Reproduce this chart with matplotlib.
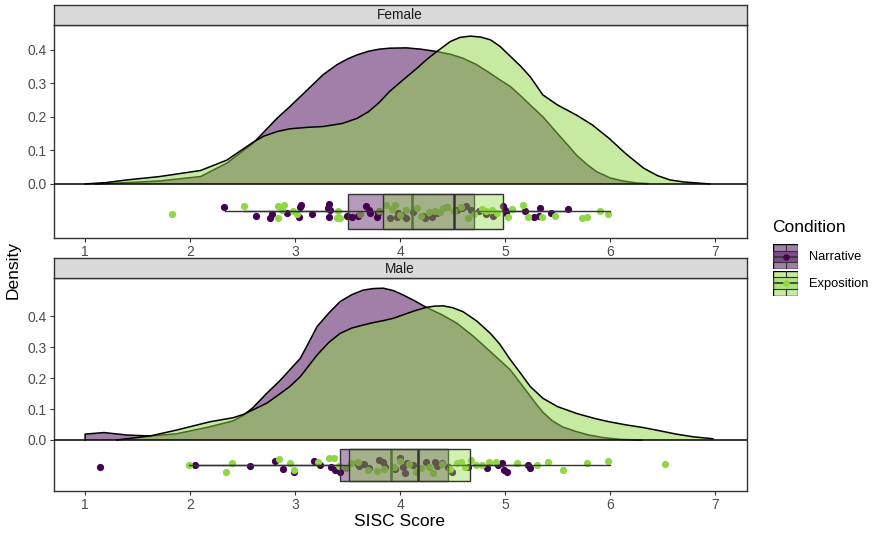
"""plot.py - SISC score density + boxplot + jitter, faceted by gender."""
import matplotlib
matplotlib.use("Agg")
import matplotlib.pyplot as plt
from matplotlib.patches import Rectangle

plt.rcParams["font.family"] = ["Liberation Sans", "DejaVu Sans"]

# Colours: viridis ends used for the two conditions
COL_N = "#440154"   # Narrative
COL_E = "#8fd744"   # Exposition

# ---------------- density curves ----------------
fem_n_x = [1.10, 1.40, 1.71, 2.10, 2.35, 2.60, 2.83, 2.95, 3.05, 3.15, 3.27, 3.40, 3.50, 3.59,
           3.70, 3.80, 3.90, 4.06, 4.20, 4.35, 4.48, 4.60, 4.73, 4.86, 4.95, 5.05, 5.15, 5.24,
           5.36, 5.50, 5.60, 5.68, 5.78, 5.87, 6.00, 6.12, 6.25, 6.36]
fem_n_y = [0.000, 0.004, 0.009, 0.022, 0.062, 0.121, 0.196, 0.230, 0.260, 0.290, 0.326, 0.355,
           0.372, 0.384, 0.395, 0.401, 0.404, 0.405, 0.401, 0.394, 0.386, 0.374, 0.355, 0.329,
           0.310, 0.290, 0.262, 0.235, 0.200, 0.150, 0.115, 0.086, 0.058, 0.037, 0.018, 0.009,
           0.003, 0.001]

fem_e_x = [1.00, 1.20, 1.40, 1.71, 2.10, 2.35, 2.60, 2.70, 2.83, 2.95, 3.10, 3.27, 3.45, 3.59,
           3.70, 3.80, 3.90, 4.03, 4.16, 4.26, 4.35, 4.48, 4.57, 4.67, 4.77, 4.86, 4.95, 5.05,
           5.15, 5.24, 5.36, 5.50, 5.68, 5.83, 5.99, 6.15, 6.32, 6.45, 6.57, 6.70, 6.82, 6.95]
fem_e_y = [0.000, 0.004, 0.012, 0.022, 0.040, 0.071, 0.124, 0.142, 0.156, 0.164, 0.168, 0.171,
           0.180, 0.195, 0.215, 0.242, 0.275, 0.310, 0.344, 0.372, 0.394, 0.424, 0.436, 0.440,
           0.437, 0.429, 0.410, 0.380, 0.350, 0.319, 0.265, 0.235, 0.205, 0.176, 0.136, 0.090,
           0.047, 0.025, 0.012, 0.006, 0.003, 0.000]

male_n_x = [1.00, 1.00, 1.18, 1.40, 1.62, 1.87, 2.19, 2.41, 2.51, 2.60, 2.73, 2.85, 2.95, 3.05,
            3.13, 3.21, 3.32, 3.43, 3.54, 3.65, 3.75, 3.84, 3.94, 4.03, 4.14, 4.25, 4.40, 4.54,
            4.70, 4.86, 4.95, 5.05, 5.20, 5.30, 5.36, 5.45, 5.55, 5.68, 5.80, 5.93, 6.10, 6.30]
male_n_y = [0.000, 0.019, 0.024, 0.016, 0.013, 0.020, 0.043, 0.062, 0.080, 0.105, 0.151, 0.190,
            0.227, 0.264, 0.315, 0.367, 0.410, 0.448, 0.470, 0.485, 0.490, 0.491, 0.483, 0.469,
            0.450, 0.429, 0.405, 0.378, 0.335, 0.286, 0.258, 0.227, 0.160, 0.115, 0.090, 0.062,
            0.042, 0.027, 0.016, 0.008, 0.002, 0.000]

male_e_x = [1.30, 1.62, 1.87, 2.19, 2.41, 2.51, 2.73, 2.85, 2.95, 3.05, 3.13, 3.21, 3.32, 3.43,
            3.54, 3.65, 3.75, 3.84, 3.94, 4.03, 4.14, 4.25, 4.33, 4.41, 4.50, 4.60, 4.73, 4.86,
            4.95, 5.05, 5.15, 5.24, 5.36, 5.50, 5.68, 5.85, 5.99, 6.15, 6.32, 6.50, 6.63, 6.80, 6.98]
male_e_y = [0.000, 0.013, 0.032, 0.059, 0.072, 0.083, 0.119, 0.148, 0.173, 0.205, 0.240, 0.275,
            0.315, 0.345, 0.362, 0.372, 0.380, 0.386, 0.394, 0.405, 0.418, 0.429, 0.433, 0.434,
            0.428, 0.415, 0.385, 0.345, 0.310, 0.260, 0.215, 0.173, 0.135, 0.108, 0.086, 0.070,
            0.059, 0.049, 0.040, 0.028, 0.019, 0.010, 0.004]

# ---------------- box statistics ----------------
# order: q1, median, q3, whisker low, whisker high
fem_n_box = [3.50, 4.11, 4.70, 2.33, 5.60]
fem_e_box = [3.84, 4.51, 4.98, 2.51, 6.00]
male_n_box = [3.43, 3.91, 4.455, 2.05, 5.23]
male_e_box = [3.51, 4.17, 4.67, 1.99, 6.00]

# ---------------- jittered raw scores ----------------
fem_n_pts_x = [2.32, 2.63, 2.76, 2.78, 2.92, 3.04, 3.06, 3.05, 3.16, 3.32, 3.31, 3.32, 3.33, 3.49,
               3.54, 3.60, 3.68, 3.70, 3.71, 3.78, 3.79, 3.97, 4.06, 3.98, 4.22, 4.24, 4.35, 4.54,
               4.59, 4.63, 4.75, 4.82, 4.89, 4.98, 5.00, 5.01, 5.19, 5.28, 5.32, 5.33, 5.44, 5.60,
               4.02, 4.12, 4.30, 4.45, 4.68, 3.90]
fem_n_pts_y = [-0.070, -0.094, -0.100, -0.090, -0.087, -0.097, -0.063, -0.070, -0.090, -0.060, -0.072,
               -0.097, -0.077, -0.094, -0.097, -0.094, -0.065, -0.077, -0.087, -0.097, -0.087, -0.097,
               -0.102, -0.087, -0.094, -0.102, -0.087, -0.077, -0.072, -0.065, -0.080, -0.090, -0.094,
               -0.067, -0.077, -0.087, -0.080, -0.097, -0.094, -0.072, -0.087, -0.074,
               -0.092, -0.085, -0.098, -0.070, -0.077, -0.100]

fem_e_pts_x = [1.83, 2.51, 2.84, 2.89, 2.84, 2.98, 3.02, 3.41, 3.40, 3.43, 3.87, 3.95, 4.06, 4.16,
               4.33, 4.41, 4.51, 4.65, 4.82, 4.92, 5.03, 5.17, 5.22, 5.35, 5.48, 5.73, 5.78, 5.90, 5.98,
               3.80, 4.00, 4.28, 4.45, 4.70, 3.62, 3.92, 4.20, 4.38, 4.58, 4.78, 4.88, 5.07, 2.88]
fem_e_pts_y = [-0.090, -0.065, -0.065, -0.063, -0.100, -0.082, -0.090, -0.080, -0.100, -0.102, -0.063,
               -0.063, -0.077, -0.072, -0.080, -0.072, -0.082, -0.102, -0.082, -0.087, -0.097, -0.063,
               -0.097, -0.097, -0.094, -0.100, -0.097, -0.082, -0.090,
               -0.082, -0.092, -0.085, -0.070, -0.090, -0.088, -0.075, -0.095, -0.083, -0.068,
               -0.074, -0.079, -0.076, -0.078]

male_n_pts_x = [1.143, 2.051, 2.567, 2.806, 2.889, 2.992, 3.178, 3.240, 3.343, 3.384, 3.426, 3.591,
                3.611, 3.653, 3.797, 3.838, 3.859, 4.003, 4.024, 4.045, 4.065, 4.251, 4.334, 4.354,
                4.458, 4.499, 4.643, 4.829, 4.932, 4.974, 4.994, 5.015, 5.221, 5.234,
                3.700, 3.950, 4.120, 4.400]
male_n_pts_y = [-0.088, -0.081, -0.084, -0.067, -0.095, -0.102, -0.067, -0.081, -0.086, -0.097, -0.102,
                -0.076, -0.084, -0.078, -0.065, -0.070, -0.086, -0.059, -0.086, -0.108, -0.073, -0.070,
                -0.070, -0.084, -0.086, -0.102, -0.086, -0.092, -0.081, -0.076, -0.097, -0.102, -0.081,
                -0.092, -0.090, -0.095, -0.080, -0.074]

male_e_pts_x = [1.989, 2.340, 2.402, 2.848, 2.951, 2.992, 3.219, 3.322, 3.372, 3.487, 3.529, 3.694,
                3.776, 3.941, 4.086, 4.148, 4.272, 4.313, 4.396, 4.540, 4.581, 4.623, 4.726, 4.850,
                4.912, 5.118, 5.304, 5.407, 5.551, 5.778, 5.985, 6.522,
                3.600, 3.850, 4.000, 4.200, 4.480, 4.680, 4.780, 3.420]
male_e_pts_y = [-0.081, -0.102, -0.076, -0.063, -0.073, -0.097, -0.070, -0.059, -0.059, -0.092, -0.076,
                -0.097, -0.099, -0.086, -0.078, -0.102, -0.086, -0.108, -0.078, -0.076, -0.070, -0.086,
                -0.081, -0.070, -0.070, -0.076, -0.081, -0.070, -0.097, -0.073, -0.067, -0.078,
                -0.072, -0.094, -0.068, -0.090, -0.095, -0.066, -0.080, -0.085]

BOX_POS = -0.082
BOX_H = 0.104
EDGE = "#333333"


def box_stats(v):
    return dict(q1=v[0], med=v[1], q3=v[2], whislo=v[3], whishi=v[4], fliers=[])


def draw_panel(ax, strip, n_x, n_y, e_x, e_y, n_box, e_box, npx, npy, epx, epy, ylim):
    # raw points first (boxes are drawn over them)
    ax.scatter(npx, npy, s=27, color=COL_N, lw=0, zorder=2)
    ax.scatter(epx, epy, s=27, color=COL_E, lw=0, zorder=2)

    z = 3
    for stats, col in ((n_box, COL_N), (e_box, COL_E)):
        ax.bxp([box_stats(stats)], positions=[BOX_POS], widths=BOX_H,
               orientation="horizontal", patch_artist=True, showcaps=False,
               showfliers=False, manage_ticks=False,
               boxprops=dict(facecolor=matplotlib.colors.to_rgba(col, 0.4),
                             edgecolor=EDGE, lw=1.0, zorder=z),
               medianprops=dict(color=EDGE, lw=1.8, zorder=z + 0.1),
               whiskerprops=dict(color=EDGE, lw=1.0, zorder=z))
        z += 0.5

    # densities: Narrative first, Exposition on top
    ax.fill_between(n_x, n_y, 0, facecolor=COL_N, alpha=0.5, lw=0, zorder=4)
    ax.plot(n_x, n_y, color="black", lw=1.1, zorder=4.1, solid_joinstyle="round")
    ax.fill_between(e_x, e_y, 0, facecolor=COL_E, alpha=0.5, lw=0, zorder=4.2)
    ax.plot(e_x, e_y, color="black", lw=1.1, zorder=4.3, solid_joinstyle="round")
    ax.axhline(0, color="black", lw=1.1, zorder=5)

    ax.set_xlim(0.7, 7.3)
    ax.set_ylim(*ylim)
    ax.set_xticks(range(1, 8))
    ax.set_yticks([0.0, 0.1, 0.2, 0.3, 0.4])
    ax.set_yticklabels(["0.0", "0.1", "0.2", "0.3", "0.4"])
    ax.tick_params(labelsize=10, labelcolor="#4d4d4d", color="#333333",
                   length=3, width=0.8, pad=2)
    for s in ax.spines.values():
        s.set_color("#333333")
        s.set_linewidth(1.0)

    # facet strip
    pos = ax.get_position()
    sax = ax.figure.add_axes([pos.x0, pos.y1, pos.width, 20 / 534])
    sax.set_xticks([])
    sax.set_yticks([])
    sax.set_facecolor("#d9d9d9")
    for s in sax.spines.values():
        s.set_color("#333333")
        s.set_linewidth(1.0)
    sax.text(0.5, 0.48, strip, ha="center", va="center", fontsize=9.8, color="#1a1a1a",
             transform=sax.transAxes)


fig = plt.figure(figsize=(8.76, 5.34), dpi=100)
ax_f = fig.add_axes([53.6 / 876, 1 - 237.7 / 534, 692.9 / 876, 212.7 / 534])
ax_m = fig.add_axes([53.6 / 876, 1 - 491 / 534, 692.9 / 876, 212.7 / 534])

draw_panel(ax_f, "Female", fem_n_x, fem_n_y, fem_e_x, fem_e_y, fem_n_box, fem_e_box,
           fem_n_pts_x, fem_n_pts_y, fem_e_pts_x, fem_e_pts_y, (-0.160, 0.473))
draw_panel(ax_m, "Male", male_n_x, male_n_y, male_e_x, male_e_y, male_n_box, male_e_box,
           male_n_pts_x, male_n_pts_y, male_e_pts_x, male_e_pts_y, (-0.165, 0.523))

fig.text(13 / 876, 1 - 270 / 534, "Density", rotation=90, ha="center", va="center", fontsize=12.5)
fig.text(400 / 876, 1 - 522 / 534, "SISC Score", ha="center", va="center", fontsize=12.5)

# ---------------- legend ----------------
fig.text(772 / 876, 1 - 228 / 534, "Condition", ha="left", va="center", fontsize=12.5)
for i, (lab, col) in enumerate((("Narrative", COL_N), ("Exposition", COL_E))):
    top = 244 + i * 26.5
    kax = fig.add_axes([773 / 876, 1 - (top + 25) / 534, 25 / 876, 25 / 534])
    kax.set_xlim(0, 1)
    kax.set_ylim(0, 1)
    kax.axis("off")
    kax.add_patch(Rectangle((0, 0), 1, 1, facecolor=matplotlib.colors.to_rgba(col, 0.5),
                            edgecolor="black", lw=1.0))
    kax.add_patch(Rectangle((0.0, 0.27), 1, 0.46, facecolor=matplotlib.colors.to_rgba(col, 0.4),
                            edgecolor=EDGE, lw=0.8))
    kax.plot([0.5, 0.5], [0, 0.27], color=EDGE, lw=0.8)
    kax.plot([0.5, 0.5], [0.73, 1], color=EDGE, lw=0.8)
    kax.plot([0, 1], [0.5, 0.5], color=EDGE, lw=1.2)
    kax.scatter([0.5], [0.5], s=22, color=col, lw=0, zorder=5)
    fig.text(809 / 876, 1 - (top + 13) / 534, lab, ha="left", va="center", fontsize=9.3)

fig.savefig("out.png", dpi=100)
